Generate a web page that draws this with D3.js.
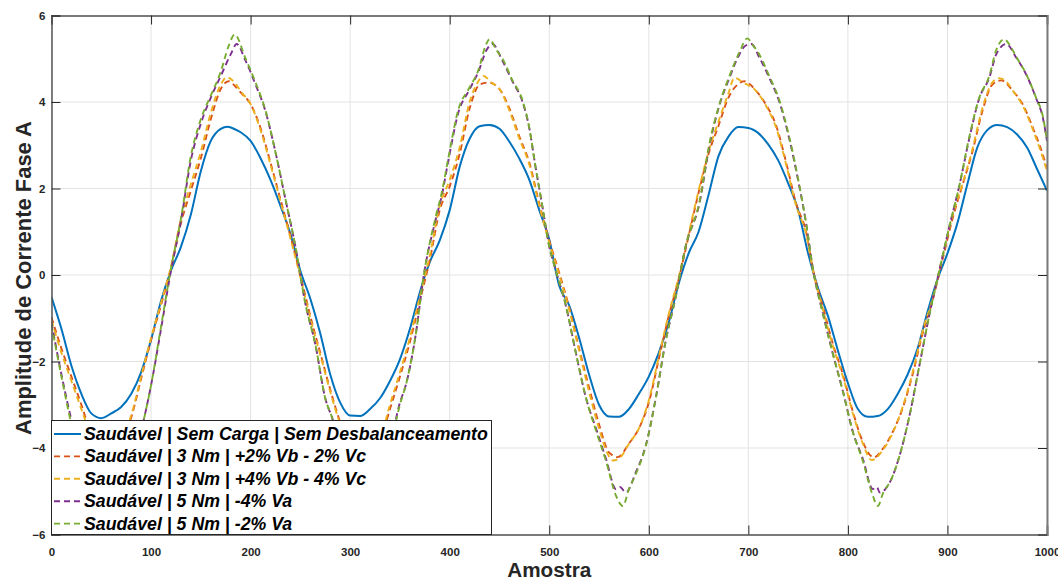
<!DOCTYPE html>
<html><head><meta charset="utf-8">
<script src="https://cdn.jsdelivr.net/npm/d3@7"></script>
<style>
html,body{margin:0;padding:0;background:#fff;}
svg{display:block;}
text{font-family:"Liberation Sans",Arial,Helvetica,sans-serif;}
</style></head>
<body>
<svg id="chart" width="1058" height="581"></svg>
<script>
// ---------- data ----------
const xTicks = [0,100,200,300,400,500,600,700,800,900,1000];
const yTicks = [-6,-4,-2,0,2,4,6];
const seriesNames = [
  "Saudável | Sem Carga | Sem Desbalanceamento",
  "Saudável | 3 Nm | +2% Vb - 2% Vc",
  "Saudável | 3 Nm | +4% Vb - 4% Vc",
  "Saudável | 5 Nm | -4% Va",
  "Saudável | 5 Nm | -2% Va"
];
const seriesColors = ["#0072BD","#D95319","#EDB120","#7E2F8E","#77AC30"];

const semCarga = [[0,-0.51],[10,-1.25],[20,-2.1],[30,-2.75],[40,-3.2],[50,-3.31],[60,-3.2],[70,-3.05],[80,-2.75],[90,-2.25],[100,-1.5],[110,-0.6],[120,0.1],[130,0.65],[140,1.4],[150,2.4],[160,3.1],[170,3.38],[177,3.43],[185,3.36],[190,3.3],[200,3.1],[210,2.7],[220,2.2],[230,1.6],[240,0.95],[250,0.1],[260,-0.55],[270,-1.35],[280,-2.3],[290,-2.95],[300,-3.25],[310,-3.26],[320,-3.1],[330,-2.85],[340,-2.45],[350,-1.95],[360,-1.25],[370,-0.4],[380,0.3],[390,0.8],[400,1.5],[410,2.5],[420,3.15],[430,3.44],[440,3.47],[450,3.38],[460,3.08],[470,2.69],[480,2.2],[490,1.5],[500,0.82],[510,-0.25],[520,-0.7],[530,-1.45],[540,-2.3],[550,-3.0],[560,-3.27],[570,-3.28],[580,-3.1],[590,-2.75],[600,-2.35],[610,-1.8],[620,-1.1],[630,-0.2],[640,0.5],[650,1.0],[660,1.85],[670,2.75],[680,3.2],[690,3.42],[700,3.4],[710,3.28],[720,3.02],[730,2.65],[740,2.12],[750,1.5],[760,0.5],[770,-0.3],[780,-0.95],[790,-1.75],[800,-2.5],[810,-3.1],[820,-3.28],[830,-3.26],[840,-3.1],[850,-2.75],[860,-2.3],[870,-1.7],[880,-0.85],[890,-0.1],[900,0.5],[910,1.2],[920,2.1],[930,2.95],[940,3.35],[950,3.47],[960,3.42],[970,3.25],[980,2.95],[990,2.45],[1000,1.95]];

const nm3vb2 = [[0,-0.98],[10,-1.7],[20,-2.35],[30,-3.0],[40,-3.7],[50,-4.15],[56,-4.25],[62,-4.15],[70,-3.9],[80,-3.3],[90,-2.4],[100,-1.5],[110,-0.7],[120,0.15],[130,1.2],[140,1.95],[150,2.7],[160,3.6],[170,4.3],[178,4.48],[185,4.35],[190,4.22],[200,3.95],[210,3.4],[220,2.6],[230,1.75],[240,0.9],[250,0.0],[260,-0.95],[270,-1.8],[280,-2.65],[290,-3.4],[300,-3.95],[312,-4.25],[320,-4.15],[330,-3.85],[340,-3.1],[350,-2.35],[360,-1.55],[370,-0.6],[380,0.35],[390,1.5],[400,2.05],[410,2.8],[420,3.85],[430,4.4],[439,4.45],[450,4.3],[460,3.85],[470,3.2],[480,2.6],[490,1.65],[500,0.8],[510,0.05],[520,-0.75],[530,-1.7],[540,-2.6],[550,-3.45],[560,-4.1],[569,-4.21],[580,-3.9],[590,-3.55],[600,-2.95],[610,-1.95],[620,-0.95],[630,-0.1],[640,0.9],[650,1.9],[660,2.8],[670,3.45],[680,4.1],[690,4.42],[696,4.48],[708,4.25],[718,3.93],[728,3.45],[738,2.6],[748,1.65],[758,1.0],[765,0.12],[775,-0.74],[785,-1.6],[795,-2.3],[805,-3.16],[815,-3.86],[826,-4.22],[835,-4.02],[845,-3.63],[855,-3.08],[865,-2.3],[875,-1.36],[885,-0.59],[895,0.35],[905,1.29],[915,2.07],[925,2.84],[935,3.78],[945,4.4],[954,4.5],[966,4.25],[976,3.93],[986,3.39],[996,2.77],[1000,2.45]];

const nm3vb4 = [[0,-1.05],[10,-1.8],[20,-2.45],[30,-3.1],[40,-3.75],[50,-4.2],[55,-4.3],[62,-4.2],[70,-3.85],[80,-3.25],[90,-2.35],[100,-1.45],[110,-0.65],[120,0.2],[130,1.3],[140,2.1],[150,2.85],[160,3.75],[170,4.4],[176,4.57],[185,4.42],[190,4.25],[200,3.95],[210,3.35],[220,2.55],[230,1.7],[240,0.85],[250,-0.05],[260,-1.0],[270,-1.85],[280,-2.7],[290,-3.45],[300,-4.0],[310,-4.3],[320,-4.2],[330,-3.8],[340,-3.0],[350,-2.25],[360,-1.45],[370,-0.5],[380,0.45],[390,1.6],[400,2.2],[410,2.95],[420,4.0],[428,4.45],[434,4.6],[442,4.45],[450,4.3],[460,3.8],[470,3.15],[480,2.55],[490,1.6],[500,0.75],[510,0.0],[520,-0.8],[530,-1.75],[540,-2.7],[550,-3.55],[558,-4.1],[564,-4.29],[572,-4.2],[580,-3.9],[590,-3.55],[600,-2.9],[610,-1.9],[620,-0.9],[630,-0.05],[640,0.95],[650,1.95],[660,2.85],[670,3.55],[680,4.2],[686,4.56],[695,4.45],[708,4.25],[718,3.9],[728,3.4],[738,2.55],[748,1.6],[758,0.95],[765,0.1],[775,-0.8],[785,-1.65],[795,-2.35],[805,-3.2],[815,-3.9],[824,-4.28],[835,-4.05],[845,-3.65],[855,-3.05],[865,-2.25],[875,-1.3],[885,-0.55],[895,0.4],[905,1.35],[915,2.1],[925,2.9],[935,3.85],[945,4.45],[952,4.55],[960,4.45],[966,4.25],[976,3.9],[986,3.35],[996,2.7],[1000,2.4]];

const nm5va4 = [[0,-1.1],[10,-2.3],[20,-3.35],[30,-4.2],[40,-4.8],[50,-5.1],[58,-5.05],[64,-5.0],[70,-4.85],[80,-4.35],[90,-3.6],[100,-2.55],[110,-1.25],[120,0.1],[130,1.25],[140,2.65],[150,3.5],[160,4.1],[170,4.6],[180,5.1],[186,5.34],[195,4.95],[205,4.4],[215,3.78],[225,2.84],[235,1.75],[245,0.66],[255,-0.66],[265,-1.6],[275,-2.85],[282,-3.31],[290,-3.9],[300,-4.55],[310,-4.95],[318,-5.05],[324,-5.0],[330,-4.75],[340,-3.95],[350,-2.95],[356,-2.54],[366,-1.36],[374,0.0],[386,1.29],[392,1.83],[399,2.69],[409,3.78],[419,4.25],[429,4.71],[437,5.2],[443,5.34],[453,4.95],[463,4.48],[473,4.01],[480,3.39],[486,2.53],[493,1.6],[500,0.66],[506,0.15],[517,-0.74],[527,-1.83],[537,-2.85],[547,-3.55],[557,-4.25],[567,-4.95],[571,-4.9],[577,-5.03],[587,-4.56],[597,-3.94],[607,-2.85],[617,-1.52],[627,-0.51],[637,0.66],[651,1.67],[661,3.0],[671,3.93],[681,4.56],[691,5.1],[697,5.3],[703,5.34],[711,5.03],[721,4.56],[731,4.01],[741,3.16],[751,2.07],[758,1.2],[765,0.12],[775,-0.9],[785,-1.83],[795,-2.69],[805,-3.63],[815,-4.25],[825,-4.95],[829,-4.9],[832,-5.03],[842,-4.8],[852,-4.17],[862,-3.24],[872,-2.07],[882,-0.9],[892,0.12],[902,1.13],[912,2.07],[922,3.16],[932,4.09],[942,4.56],[949,5.1],[959,5.34],[969,5.03],[979,4.64],[989,4.09],[996,3.62],[1000,3.1]];

const nm5va2 = [[0,-1.15],[10,-2.35],[20,-3.45],[30,-4.3],[40,-4.9],[50,-5.25],[57,-5.35],[64,-5.2],[70,-4.95],[80,-4.4],[90,-3.6],[100,-2.55],[110,-1.2],[120,0.15],[130,1.3],[140,2.75],[150,3.6],[160,4.15],[170,4.7],[178,5.3],[184,5.56],[195,5.0],[205,4.45],[215,3.8],[225,2.84],[235,1.75],[245,0.66],[255,-0.66],[265,-1.6],[275,-2.85],[282,-3.31],[290,-3.95],[300,-4.6],[310,-5.1],[316,-5.35],[322,-5.15],[330,-4.8],[340,-4.0],[350,-3.0],[356,-2.54],[366,-1.36],[374,0.0],[386,1.35],[392,1.9],[399,2.75],[409,3.85],[419,4.3],[429,4.75],[436,5.3],[440,5.45],[447,5.2],[453,5.0],[463,4.5],[473,4.05],[480,3.4],[486,2.53],[493,1.6],[500,0.66],[506,0.15],[517,-0.74],[527,-1.83],[537,-2.85],[547,-3.6],[557,-4.3],[567,-5.1],[574,-5.34],[580,-4.95],[587,-4.6],[597,-3.95],[607,-2.85],[617,-1.52],[627,-0.51],[637,0.66],[651,1.7],[661,3.05],[671,3.95],[681,4.6],[691,5.15],[699,5.47],[705,5.3],[711,5.1],[721,4.6],[731,4.05],[741,3.2],[751,2.1],[758,1.2],[765,0.12],[775,-0.9],[785,-1.83],[795,-2.69],[805,-3.63],[815,-4.3],[825,-5.1],[830,-5.34],[836,-5.0],[842,-4.8],[852,-4.17],[862,-3.24],[872,-2.07],[882,-0.9],[892,0.12],[902,1.13],[912,2.07],[922,3.2],[932,4.1],[942,4.6],[949,5.2],[957,5.45],[963,5.3],[969,5.05],[979,4.65],[989,4.1],[996,3.65],[1000,3.1]];

const seriesData = [semCarga, nm3vb2, nm3vb4, nm5va4, nm5va2];

// ---------- layout ----------
const L = 51.5, R = 1047, T = 15.5, B = 534.5;
const svg = d3.select("#chart");
const x = d3.scaleLinear().domain([0,1000]).range([L,R]);
const y = d3.scaleLinear().domain([-6,6]).range([B,T]);

// grid
const grid = svg.append("g");
grid.selectAll("line.gx").data(xTicks).join("line")
  .attr("x1",d=>x(d)).attr("x2",d=>x(d)).attr("y1",T).attr("y2",B)
  .attr("stroke","#e3e3e3").attr("stroke-width",1);
grid.selectAll("line.gy").data(yTicks).join("line")
  .attr("x1",L).attr("x2",R).attr("y1",d=>y(d)).attr("y2",d=>y(d))
  .attr("stroke","#e3e3e3").attr("stroke-width",1);

// lines
svg.append("clipPath").attr("id","clip").append("rect")
  .attr("x",L).attr("y",T).attr("width",R-L).attr("height",B-T);
const line = d3.line().x(d=>x(d[0])).y(d=>y(d[1])).curve(d3.curveMonotoneX);
const lg = svg.append("g").attr("clip-path","url(#clip)");
seriesData.forEach((s,i)=>{
  lg.append("path").datum(s).attr("d",line)
    .attr("fill","none").attr("stroke",seriesColors[i])
    .attr("stroke-width", i===0 ? 2 : 1.9)
    .attr("stroke-dasharray", i===0 ? null : "6,4")
    .attr("stroke-linejoin","round");
});

// axes (box with inward ticks)
const axB = svg.append("g").attr("transform",`translate(0,${B})`)
  .call(d3.axisBottom(x).tickValues(xTicks).tickSize(-9).tickPadding(13).tickFormat(d3.format("d")));
const axT = svg.append("g").attr("transform",`translate(0,${T})`)
  .call(d3.axisTop(x).tickValues(xTicks).tickSize(-9).tickFormat(""));
const axL = svg.append("g").attr("transform",`translate(${L},0)`)
  .call(d3.axisLeft(y).tickValues(yTicks).tickSize(-9).tickPadding(6).tickFormat(d3.format("d")));
const axR = svg.append("g").attr("transform",`translate(${R},0)`)
  .call(d3.axisRight(y).tickValues(yTicks).tickSize(-9).tickFormat(""));
[axB,axT,axL,axR].forEach(a=>{
  a.select(".domain").attr("stroke","#7a7a7a").attr("stroke-width",2);
  a.selectAll(".tick line").attr("stroke","#262626").attr("stroke-width",1);
  a.selectAll("text").attr("fill","#262626").style("font-size","11.5px").style("font-weight","bold")
   .style("font-family",'"Liberation Sans",Arial,sans-serif');
});
axL.select(".domain").attr("stroke","#555").attr("stroke-width",1.5);

// axis titles
const xt = svg.append("text").attr("x",(L+R)/2).attr("y",576.5).attr("text-anchor","middle")
  .attr("fill","#262626").style("font-weight","bold").style("font-size","20px").text("Amostra");
const yt = svg.append("text").attr("transform","translate(31,278) rotate(-90)").attr("text-anchor","middle")
  .attr("fill","#262626").style("font-weight","bold").style("font-size","21px").text("Amplitude de Corrente Fase A");
function fit(t, target){ const w=t.node().getComputedTextLength(); const fs=parseFloat(t.style("font-size")); t.style("font-size",(fs*target/w).toFixed(2)+"px"); }
fit(xt, 84); fit(yt, 314);

// legend
const lgd = svg.append("g");
lgd.append("rect").attr("x",51.5).attr("y",420.5).attr("width",440).attr("height",114)
  .attr("fill","#fff").attr("stroke","#262626").attr("stroke-width",1);
const rows = lgd.selectAll("g.row").data(seriesNames).join("g")
  .attr("transform",(d,i)=>`translate(0,${440 + i*22.4})`);
rows.append("line").attr("x1",54).attr("x2",81).attr("y1",-6).attr("y2",-6)
  .attr("stroke",(d,i)=>seriesColors[i]).attr("stroke-width",(d,i)=>i===0?2:1.9)
  .attr("stroke-dasharray",(d,i)=>i===0?null:"6,4");
const lt = rows.append("text").attr("x",84).attr("y",0).attr("fill","#000")
  .style("font-weight","bold").style("font-style","italic").style("font-size","17px").text(d=>d);
const w0 = lt.nodes()[0].getComputedTextLength();
lt.style("font-size",(17*404/w0).toFixed(2)+"px");
</script>
</body></html>
